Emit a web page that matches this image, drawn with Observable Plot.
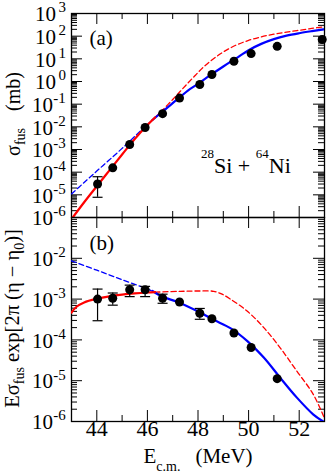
<!DOCTYPE html>
<html><head><meta charset="utf-8">
<script src="https://cdn.jsdelivr.net/npm/d3@7"></script>
<script src="https://cdn.jsdelivr.net/npm/@observablehq/plot@0.6"></script>
<style>body{margin:0;background:#fff}#chart svg{display:block}#chart text{font-family:"Liberation Serif","Times New Roman","DejaVu Serif",serif}</style>
</head><body><div id="chart"></div>
<script>
// ---------- data ----------
const energies = [44.03, 44.63, 45.30, 45.91, 46.60, 47.27, 48.07, 48.55, 49.42, 50.10, 51.13, 52.91];
const sigmaFus = [3.0e-5, 1.55e-4, 1.66e-3, 9.3e-3, 0.038, 0.186, 0.74, 2.04, 7.8, 17, 35.5, 71];
const sigmaErrLo = [7.8e-6, null, null, null, null, null, null, null, null, null, null, null];
const sigmaErrHi = [6.3e-5, null, null, null, null, null, null, null, null, null, null, null];
const sFactor = [1.0e-3, 1.05e-3, 1.7e-3, 1.7e-3, 1.05e-3, 8.5e-4, 4.5e-4, 3.3e-4, 1.48e-4, 6.5e-5, 1.12e-5, null];
const sErrLo = [2.95e-4, 7.1e-4, 1.15e-3, 1.15e-3, 7.9e-4, null, 3.2e-4, null, null, null, null, null];
const sErrHi = [1.76e-3, 1.41e-3, 2.2e-3, 2.05e-3, 1.32e-3, null, 5.9e-4, null, null, null, null, null];

// panel (a) curves [E, sigma]
const redSolidA = [[43.05,1.0e-6],[43.5,4.7e-6],[44.0,2.4e-5],[44.5,1.2e-4],[45.0,6.0e-4],[45.5,2.9e-3],[46.0,1.2e-2],[46.3,2.6e-2]];
const redDashA = [[46.3,2.6e-2],[46.6,5.5e-2],[47.0,0.16],[47.3,0.37],[47.6,0.85],[47.9,1.9],[48.2,4.2],[48.6,9.8],[49.0,20],[49.5,40],[50.0,65],[50.5,93],[51.0,122],[51.5,150],[52.0,182],[52.5,219],[53.0,263]];
const blueDashA = [[43.0,1.1e-5],[43.5,3.5e-5],[44.0,1.12e-4],[44.5,3.5e-4],[45.0,1.12e-3],[45.5,3.8e-3],[46.0,1.26e-2],[46.2,2.0e-2]];
const blueSolidA = [[46.2,2.0e-2],[46.6,4.7e-2],[47.0,0.112],[47.3,0.209],[47.6,0.40],[48.0,0.79],[48.5,1.95],[49.0,4.6],[49.5,10.5],[50.0,24],[50.5,45.7],[51.0,74],[51.5,105],[52.0,135],[52.5,166],[53.0,200]];

// panel (b) curves [E, E*sigma*exp(...)]
const redSolidB = [[43.0,4.7e-4],[43.2,6.5e-4],[43.5,8.3e-4],[44.0,1.02e-3],[44.5,1.17e-3],[45.0,1.29e-3],[45.5,1.38e-3],[46.0,1.45e-3],[46.3,1.48e-3]];
const redDashB = [[46.3,1.48e-3],[47.3,1.55e-3],[48.0,1.58e-3],[48.62,1.55e-3],[48.95,1.32e-3],[49.28,1.0e-3],[49.94,5.1e-4],[50.6,2.0e-4],[51.24,6.5e-5],[51.9,1.74e-5],[52.55,4.7e-6],[53.0,1.2e-6]];
const blueDashB = [[43.0,8.7e-3],[44.0,5.1e-3],[45.0,3.0e-3],[45.9,1.86e-3],[46.2,1.58e-3]];
const blueSolidB = [[46.2,1.58e-3],[46.58,1.15e-3],[47.24,8.3e-4],[47.97,5.1e-4],[48.62,3.1e-4],[49.28,1.95e-4],[49.94,9.5e-5],[50.6,3.7e-5],[51.24,1.2e-5],[51.9,3.9e-6],[52.55,1.5e-6],[52.95,1.0e-6]];

// ticks
const xMajor = [44, 46, 48, 50, 52];
const xMinor = [45, 47, 49, 51];
const yExpA = [3, 2, 1, 0, -1, -2, -3, -4, -5, -6];
const yExpB = [-2, -3, -4, -5, -6];
const yDecadesA = [-6, -5, -4, -3, -2, -1, 0, 1, 2, 3];
const yDecadesB = [-6, -5, -4, -3, -2, -1];

// ---------- layout ----------
const W = 327, ML = 71, MR = 3, innerW = W - ML - MR;
const FONT = "'Liberation Serif', 'Times New Roman', 'DejaVu Serif', serif";
const MAJ = 11, MIN = 6;
const minorOf = decs => decs.slice(0, -1).flatMap(e => [2,3,4,5,6,7,8,9].map(k => k * Math.pow(10, e)));
const capSymbol = {draw(ctx, size) { const w = Math.sqrt(size / Math.PI); ctx.moveTo(-w, 0); ctx.lineTo(w, 0); }};

function tickMarks(innerH, yMajor, yMinor) {
  const t = {stroke: "black", strokeWidth: 1};
  return [
    Plot.tickY(yMajor, {y: d => d, insetRight: innerW - MAJ, ...t}),
    Plot.tickY(yMajor, {y: d => d, insetLeft: innerW - MAJ, ...t}),
    Plot.tickY(yMinor, {y: d => d, insetRight: innerW - MIN, ...t}),
    Plot.tickY(yMinor, {y: d => d, insetLeft: innerW - MIN, ...t}),
    Plot.tickX(xMajor, {x: d => d, insetBottom: innerH - MAJ, ...t}),
    Plot.tickX(xMajor, {x: d => d, insetTop: innerH - MAJ, ...t}),
    Plot.tickX(xMinor, {x: d => d, insetBottom: innerH - MIN, ...t}),
    Plot.tickX(xMinor, {x: d => d, insetTop: innerH - MIN, ...t}),
    Plot.frame({stroke: "black", strokeWidth: 1.3})
  ];
}
function yLabels(exps) {
  const pos = exps.filter(e => e >= 0), neg = exps.filter(e => e < 0);
  const base = {y: e => Math.pow(10, e), frameAnchor: "left", fill: "black", fontFamily: FONT};
  return [
    Plot.text(pos, {...base, text: () => "10", textAnchor: "end", dx: -15.5, dy: 1, fontSize: 21}),
    Plot.text(pos, {...base, text: e => String(e), textAnchor: "start", dx: -13, dy: -6, fontSize: 15}),
    Plot.text(neg, {...base, text: () => "10", textAnchor: "end", dx: -18.5, dy: 1, fontSize: 21}),
    Plot.text(neg, {...base, text: e => "-" + Math.abs(e), textAnchor: "start", dx: -18.3, dy: -6, fontSize: 15})
  ];
}
function curves(redSolid, redDash, blueDash, blueSolid) {
  const xy = {x: d => d[0], y: d => d[1], curve: "catmull-rom", clip: true};
  return [
    Plot.line(blueDash, {...xy, stroke: "#0000ff", strokeWidth: 1.3, strokeDasharray: "5,3"}),
    Plot.line(redDash, {...xy, stroke: "#ff0000", strokeWidth: 1.3, strokeDasharray: "5,3"}),
    Plot.line(blueSolid, {...xy, stroke: "#0000ff", strokeWidth: 2.2}),
    Plot.line(redSolid, {...xy, stroke: "#ff0000", strokeWidth: 2.2})
  ];
}
function points(vals, lo, hi) {
  const pts = energies.map((E, i) => ({E, v: vals[i], lo: lo[i], hi: hi[i]})).filter(d => d.v != null);
  const err = pts.filter(d => d.lo != null);
  return [
    Plot.ruleX(err, {x: "E", y1: "lo", y2: "hi", stroke: "black", strokeWidth: 1.2}),
    Plot.dot(err, {x: "E", y: "lo", r: 5, symbol: capSymbol, stroke: "black", fill: "none", strokeWidth: 1.2}),
    Plot.dot(err, {x: "E", y: "hi", r: 5, symbol: capSymbol, stroke: "black", fill: "none", strokeWidth: 1.2}),
    Plot.dot(pts, {x: "E", y: "v", r: 4.5, fill: "black", stroke: "none"})
  ];
}

// ---------- panel (a) ----------
const hA = 217, mtA = 13, innerHA = hA - mtA;
const plotA = Plot.plot({
  width: W, height: hA, marginLeft: ML, marginRight: MR, marginTop: mtA, marginBottom: 0,
  style: {background: "transparent", overflow: "visible", fontFamily: FONT},
  x: {domain: [43, 53], axis: null},
  y: {type: "log", domain: [1e-6, 1e3], axis: null},
  marks: [
    ...tickMarks(innerHA, yDecadesA.map(e => Math.pow(10, e)), minorOf(yDecadesA)),
    ...curves(redSolidA, redDashA, blueDashA, blueSolidA),
    ...points(sigmaFus, sigmaErrLo, sigmaErrHi),
    ...yLabels(yExpA)
  ]
});

// ---------- panel (b) ----------
const hB = 256, mbB = 52, innerHB = hB - mbB;
const plotB = Plot.plot({
  width: W, height: hB, marginLeft: ML, marginRight: MR, marginTop: 0, marginBottom: mbB,
  style: {background: "transparent", overflow: "visible", fontFamily: FONT},
  x: {domain: [43, 53], axis: null},
  y: {type: "log", domain: [1e-6, 1e-1], axis: null},
  marks: [
    ...tickMarks(innerHB, yDecadesB.map(e => Math.pow(10, e)), minorOf(yDecadesB)),
    ...curves(redSolidB, redDashB, blueDashB, blueSolidB),
    ...points(sFactor, sErrLo, sErrHi),
    ...yLabels(yExpB),
    Plot.text(xMajor, {x: d => d, text: d => String(d), frameAnchor: "bottom", dy: 14.5, fontSize: 22, fill: "black", fontFamily: FONT})
  ]
});

const chart = document.getElementById("chart");
chart.appendChild(plotA);
chart.appendChild(plotB);

// ---------- annotations with sub/superscripts ----------
const sA = d3.select(plotA), sB = d3.select(plotB);
function txt(sel, x, y, size, rotate) {
  const t = sel.append("text").attr("x", x).attr("y", y)
    .style("font-family", FONT).attr("font-size", size).attr("fill", "black")
    .attr("text-anchor", rotate ? "middle" : "start");
  if (rotate) t.attr("transform", `rotate(-90 ${x} ${y})`);
  return t;
}
txt(sA, 89.5, 45, 21).text("(a)");
txt(sB, 89.5, 33, 21).text("(b)");

const lab = txt(sA, 201, 173, 22);
lab.append("tspan").attr("font-size", 13).attr("dy", -15).text("28");
lab.append("tspan").attr("dy", 15).text("Si + ");
lab.append("tspan").attr("font-size", 13).attr("dy", -15).text("64");
lab.append("tspan").attr("dy", 15).text("Ni");

const yla = txt(sA, 20, 114, 20, true);
yla.append("tspan").text("σ");
yla.append("tspan").attr("font-size", 14).attr("dy", 5).text("fus");
yla.append("tspan").attr("dy", -5).attr("dx", 17).text("(mb)");

const ylb = txt(sB, 19, 101.5, 20.5, true);
ylb.append("tspan").text("Eσ");
ylb.append("tspan").attr("font-size", 14).attr("dy", 5).text("fus");
ylb.append("tspan").attr("dy", -5).text(" exp[2π (η − η");
ylb.append("tspan").attr("font-size", 14).attr("dy", 5).text("0");
ylb.append("tspan").attr("dy", -5).text(")]");

const xl = txt(sB, 198, 246, 21).attr("text-anchor", "middle");
xl.append("tspan").text("E");
xl.append("tspan").attr("font-size", 14).attr("dy", 8).text("c.m.");
xl.append("tspan").attr("dy", -8).attr("dx", 15).text("(MeV)");
</script></body></html>
